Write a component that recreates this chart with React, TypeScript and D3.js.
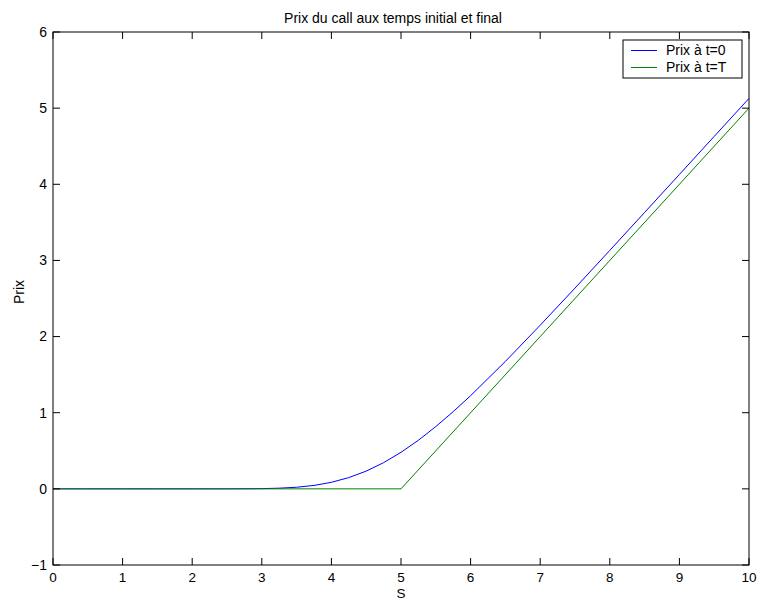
import React from 'react';
import * as d3 from 'd3';

// Underlying price S, and the call price at t=0
const sInitial = [0, 0.5, 1, 1.5, 2, 2.5, 3, 3.25, 3.5, 3.75, 4, 4.25, 4.5, 4.75, 5, 5.25, 5.5, 5.75, 6, 6.5, 7, 7.5, 8, 8.5, 9, 9.5, 10];
const priceInitial = [0, 0, 0, 0, 0, 0.0003, 0.003, 0.009, 0.021, 0.045, 0.086, 0.148, 0.233, 0.344, 0.48, 0.638, 0.818, 1.014, 1.224, 1.674, 2.149, 2.637, 3.132, 3.63, 4.129, 4.629, 5.128];

// Payoff at maturity (green)
const sFinal = [0, 5, 10];
const priceFinal = [0, 0, 5];

const xTicks = [0, 1, 2, 3, 4, 5, 6, 7, 8, 9, 10];
const yTicks = [-1, 0, 1, 2, 3, 4, 5, 6];

const legendLabels = ['Prix à t=0', 'Prix à t=T'];
const colors = ['#0000ff', '#008000'];

const W = 759;
const H = 601;
const margin = { top: 32, right: 10, bottom: 36, left: 53 };
const font = '"Liberation Sans", Arial, Helvetica, sans-serif';

export default function App() {
  const x = d3.scaleLinear().domain([0, 10]).range([margin.left, W - margin.right]);
  const y = d3.scaleLinear().domain([-1, 6]).range([H - margin.bottom, margin.top]);
  const tick = 7;

  const line = d3
    .line<[number, number]>()
    .x((d) => x(d[0]))
    .y((d) => y(d[1]));

  const blue = line(sInitial.map((s, i) => [s, priceInitial[i]]));
  const green = line(sFinal.map((s, i) => [s, priceFinal[i]]));

  const x0 = x(0), x1 = x(10), y0 = y(-1), y1 = y(6);
  const fmt = (v: number) => (v < 0 ? '\u2212' + Math.abs(v) : String(v));

  return (
    <div style={{ position: 'fixed', left: 0, top: 0 }}>
      <svg width={W} height={H} style={{ display: 'block', background: '#fff' }} fontFamily={font}>
        <rect x={0} y={0} width={W} height={H} fill="#fff" />

        <path d={blue ?? ''} fill="none" stroke={colors[0]} strokeWidth={1} />
        <path d={green ?? ''} fill="none" stroke={colors[1]} strokeWidth={1} />

        {/* box */}
        <rect x={x0} y={y1} width={x1 - x0} height={y0 - y1} fill="none" stroke="#000" strokeWidth={1} />

        {/* x ticks, bottom and top */}
        {xTicks.map((t) => (
          <g key={'x' + t}>
            <line x1={x(t)} x2={x(t)} y1={y0} y2={y0 - tick} stroke="#000" />
            <line x1={x(t)} x2={x(t)} y1={y1} y2={y1 + tick} stroke="#000" />
            <text x={x(t)} y={582} textAnchor="middle" fontSize={13.5}>
              {t}
            </text>
          </g>
        ))}

        {/* y ticks, left and right */}
        {yTicks.map((t) => (
          <g key={'y' + t}>
            <line x1={x0} x2={x0 + tick} y1={y(t)} y2={y(t)} stroke="#000" />
            <line x1={x1} x2={x1 - tick} y1={y(t)} y2={y(t)} stroke="#000" />
            <text x={x0 - 6} y={y(t)} dy="0.35em" textAnchor="end" fontSize={14}>
              {fmt(t)}
            </text>
          </g>
        ))}

        {/* labels */}
        <text x={393} y={22.5} textAnchor="middle" fontSize={14}>
          Prix du call aux temps initial et final
        </text>
        <text x={(x0 + x1) / 2} y={598} textAnchor="middle" fontSize={13.5}>
          S
        </text>
        <text transform="translate(24,292) rotate(-90)" textAnchor="middle" fontSize={14}>
          Prix
        </text>

        {/* legend */}
        <g>
          <rect x={623} y={40} width={119} height={38} fill="#fff" stroke="#000" strokeWidth={1} />
          {legendLabels.map((lab, i) => (
            <g key={lab}>
              <line x1={631} x2={657} y1={50.5 + i * 17} y2={50.5 + i * 17} stroke={colors[i]} />
              <text x={666} y={50.5 + i * 17} dy="0.35em" fontSize={14}>
                {lab}
              </text>
            </g>
          ))}
        </g>
      </svg>
    </div>
  );
}
